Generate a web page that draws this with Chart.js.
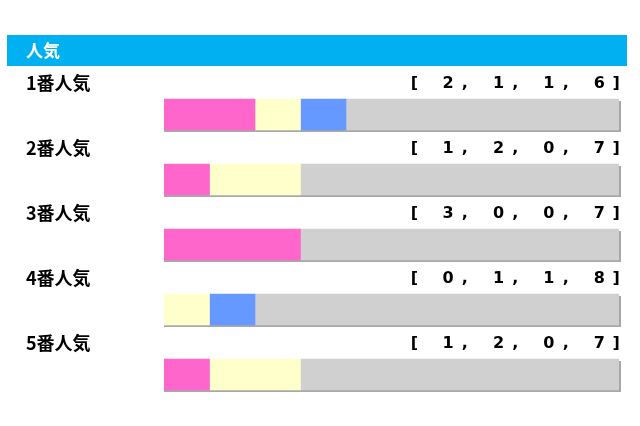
<!DOCTYPE html>
<html><head><meta charset="utf-8">
<script src="https://cdn.jsdelivr.net/npm/chart.js@4"></script>
<style>html,body{margin:0;padding:0;background:#fff;}#wrap{width:640px;height:426px;position:relative;}</style>
</head><body><div id="wrap"><canvas id="c" width="640" height="426"></canvas></div>
<script>
const title = "人気";
const categories = ["1番人気","2番人気","3番人気","4番人気","5番人気"];
const first  = [2,1,3,0,1];
const second = [1,2,0,1,2];
const third  = [1,0,0,1,0];
const other  = [6,7,7,8,7];
const seriesNames = ["1着","2着","3着","着外"];
const colors = ["#ff66cc","#ffffcc","#6699ff","#d0d0d0"];

const deco = {
  id:'deco',
  beforeDraw(chart){
    const ctx = chart.ctx;
    ctx.save();
    ctx.fillStyle = "#00b0f0";
    ctx.fillRect(7,35,620,31);
    ctx.fillStyle = "#ffffff";
    ctx.font = "bold 17px 'Noto Sans CJK JP'";
    ctx.textBaseline = "middle";
    ctx.fillText(title, 26, 50.5);
    ctx.restore();
  },
  beforeDatasetsDraw(chart){
    const ctx = chart.ctx;
    const meta = chart.getDatasetMeta(0);
    const x = chart.scales.x;
    ctx.save();
    ctx.fillStyle = "#a8a8a8";
    meta.data.forEach(b=>{
      const h = 31;
      const top = b.y - h/2;
      const l = x.getPixelForValue(0), r = x.getPixelForValue(10);
      ctx.fillRect(l, top+2, r-l+2, h);
    });
    ctx.restore();
  },
  afterDatasetsDraw(chart){
    const ctx = chart.ctx;
    const meta = chart.getDatasetMeta(0);
    ctx.save();
    ctx.textBaseline = "middle";
    ctx.fillStyle = "#000";
    meta.data.forEach((b,i)=>{
      const y = b.y - 31;
      ctx.font = "bold 18px 'Noto Sans CJK JP'";
      ctx.textAlign = "left";
      ctx.fillText(categories[i], 26, y);
      const s = "[ " + first[i] + ", " + second[i] + ", " + third[i] + ", " + other[i] + "]";
      ctx.font = "bold 16px 'DejaVu Sans'";
      ctx.textAlign = "center";
      const x0 = 414.5, p = 16.8;
      for (let k=0;k<s.length;k++){
        ctx.fillText(s[k], x0 + k*p, y);
      }
    });
    ctx.restore();
  }
};

const data = [first,second,third,other];
new Chart(document.getElementById('c'), {
  type:'bar',
  data:{
    labels:categories,
    datasets: data.map((d,i)=>({label:seriesNames[i], data:d.map(v=>v===0?null:v), backgroundColor:colors[i], borderWidth:0, barThickness:31}))
  },
  options:{
    indexAxis:'y',
    responsive:false,
    animation:false,
    layout:{padding:{left:164,right:21,top:82,bottom:19}},
    plugins:{legend:{display:false},tooltip:{enabled:false},title:{display:false}},
    scales:{
      x:{stacked:true,min:0,max:10,display:false},
      y:{stacked:true,display:false}
    }
  },
  plugins:[deco]
});
</script></body></html>
